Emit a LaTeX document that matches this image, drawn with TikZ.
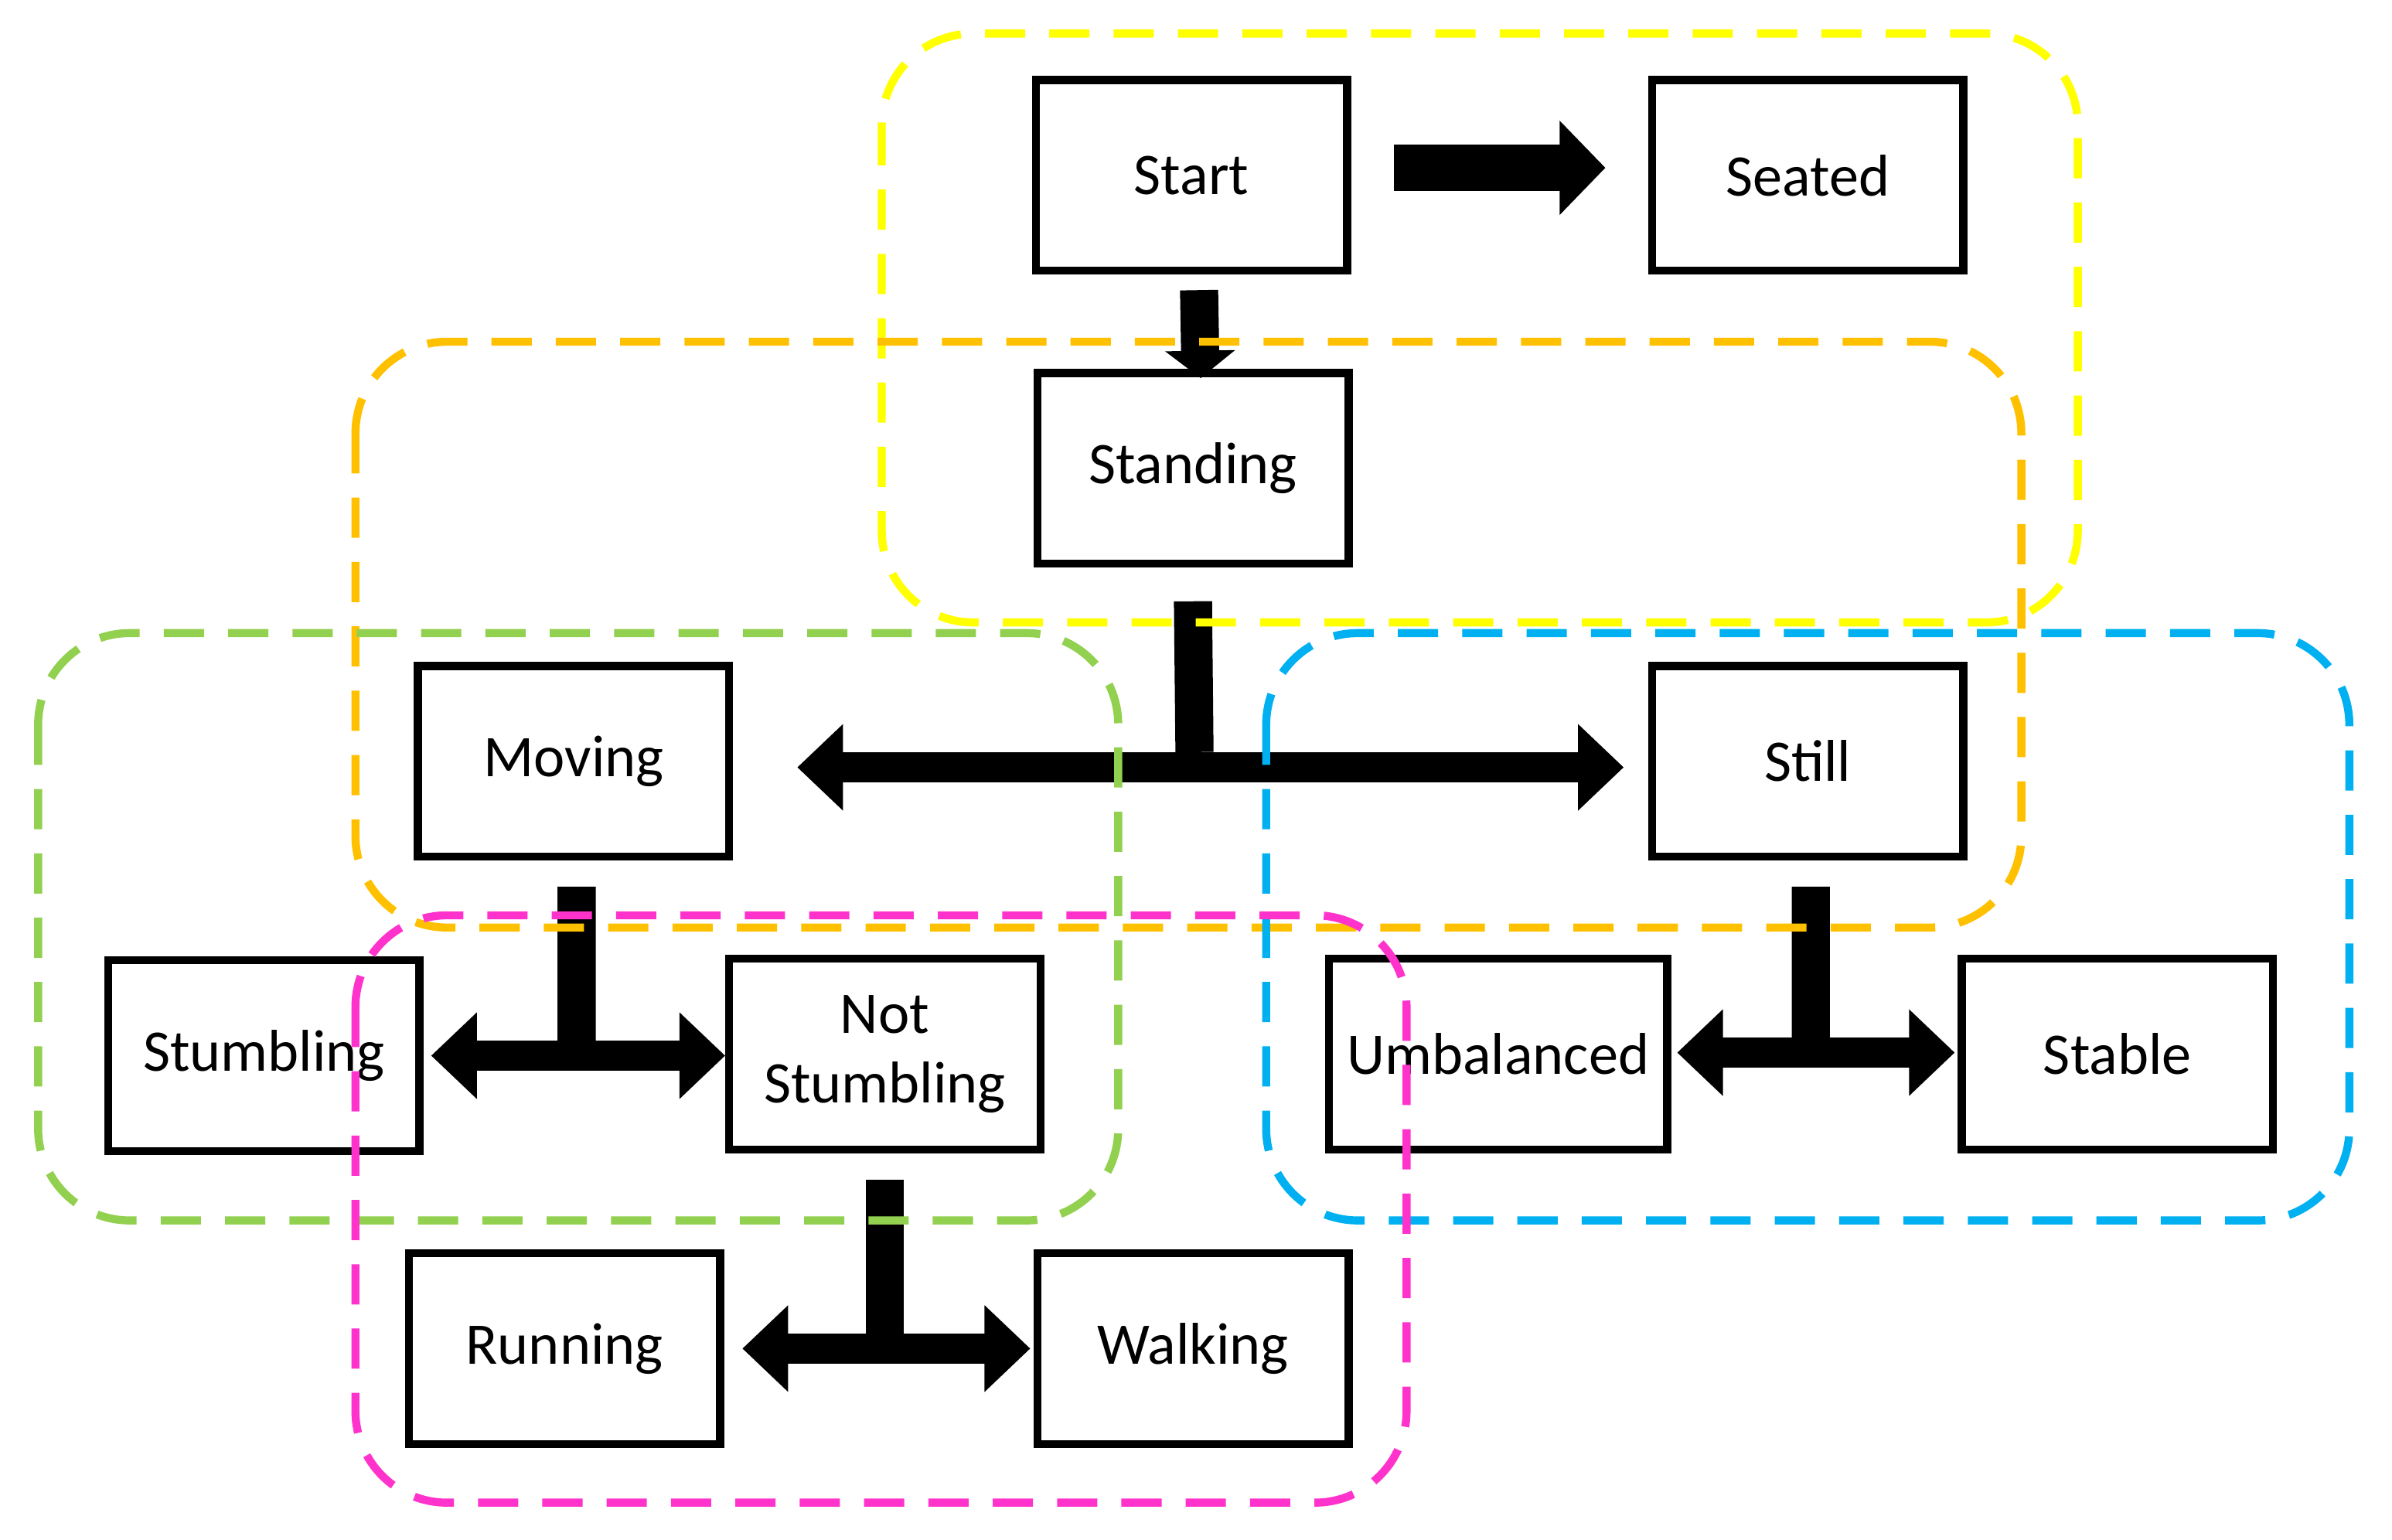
\documentclass[tikz,border=0pt]{standalone}
\usepackage{fontspec}
\setmainfont{Carlito}
\usetikzlibrary{arrows.meta}
\begin{document}
\begin{tikzpicture}
\definecolor{cyellow}{HTML}{FFFF00}
\definecolor{corange}{HTML}{FFC000}
\definecolor{cgreen}{HTML}{92D050}
\definecolor{cblue}{HTML}{00B0F0}
\definecolor{cpink}{HTML}{FF33CC}
\tikzset{
  state/.style={draw, rectangle, line width=1.5pt, minimum width=2.04cm, minimum height=1.25cm, align=center, font=\fontsize{11}{13}\selectfont},
  region/.style={line width=1.5pt, dash pattern=on 7.5pt off 4.5pt, rounded corners=0.6cm},
  stem/.style={line width=0.25cm},
  fat/.style={line width=0.22cm, -{Triangle[length=0.3cm 0, width=0.55cm 0]}},
  fatboth/.style={line width=0.2cm, {Triangle[length=0.3cm 0, width=0.55cm 0]}-{Triangle[length=0.3cm 0, width=0.55cm 0]}}
}
\useasboundingbox (0,0) rectangle (15.68,-10.09);

\node[state] (start) at (7.81,-1.15) {Start};
\node[state] (seated) at (11.85,-1.15) {Seated};
\node[state] (standing) at (7.82,-3.07) {Standing};
\node[state] (moving) at (3.76,-4.99) {Moving};
\node[state] (still) at (11.85,-4.99) {Still};
\node[state] (stumbling) at (1.73,-6.92) {Stumbling};
\node[state] (notstumbling) at (5.80,-6.91) {Not\\Stumbling};
\node[state] (umbalanced) at (9.82,-6.91) {Umbalanced};
\node[state] (stable) at (13.88,-6.91) {Stable};
\node[state] (running) at (3.70,-8.84) {Running};
\node[state] (walking) at (7.82,-8.84) {Walking};

% arrows
\draw[line width=0.3cm, -{Triangle[length=0.3cm 0, width=0.6cm 0]}] (start.east) ++(0.28,0.05) coordinate (a0) -- ([xshift=-0.28cm,yshift=0.05cm]seated.west);
\draw[line width=0.25cm, -{Triangle[length=0.18cm 0, width=0.45cm 0]}] ([xshift=0.05cm,yshift=-0.1cm]start.south) -- ([xshift=0.05cm,yshift=-0.06cm]standing.north);

\coordinate (t1) at (7.83,-5.03);
\draw[stem] ([yshift=-0.22cm]standing.south) -- ([yshift=0.1cm]t1);
\draw[fatboth] ([xshift=0.42cm,yshift=-0.04cm]moving.east) -- ([xshift=-0.16cm,yshift=-0.04cm]still.west);

\coordinate (t2) at (3.78,-6.92);
\draw[stem] ([xshift=0.02cm,yshift=-0.17cm]moving.south) -- ([yshift=0.1cm]t2);
\draw[fatboth] ([xshift=0.05cm]stumbling.east |- t2) -- ([xshift=0cm]notstumbling.west |- t2);

\coordinate (t3) at (11.87,-6.90);
\draw[stem] ([xshift=0.02cm,yshift=-0.17cm]still.south) -- ([yshift=0.1cm]t3);
\draw[fatboth] ([xshift=0.04cm]umbalanced.east |- t3) -- ([xshift=-0.02cm]stable.west |- t3);

\coordinate (t4) at (5.80,-8.84);
\draw[stem] ([yshift=-0.17cm]notstumbling.south) -- ([yshift=0.1cm]t4);
\draw[fatboth] ([xshift=0.12cm]running.east |- t4) -- ([xshift=-0.02cm]walking.west |- t4);

% groups
\draw[region, cyellow] (5.78,-0.22) rectangle (13.62,-4.08);
\draw[region, corange] (2.33,-2.24) rectangle (13.25,-6.08);
\draw[region, cgreen] (0.25,-4.15) rectangle (7.33,-8.00);
\draw[region, cblue] (8.30,-4.15) rectangle (15.40,-8.00);
\draw[region, cpink] (2.33,-6.00) rectangle (9.22,-9.85);

\end{tikzpicture}
\end{document}
